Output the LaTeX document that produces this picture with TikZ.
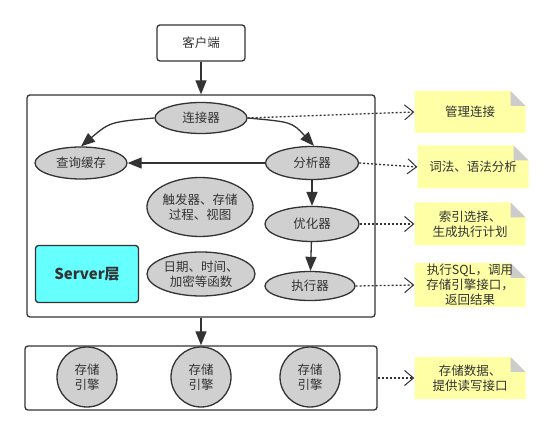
\documentclass[tikz,border=0pt]{standalone}
\usepackage{fontspec}
\setmainfont{Noto Sans CJK SC}
\usepackage{tikz}
\usetikzlibrary{positioning}
\usetikzlibrary{shapes.geometric}
\usetikzlibrary{arrows.meta}

\definecolor{linegray}{HTML}{333333}
\definecolor{ovalgray}{HTML}{D0D0D0}
\definecolor{layercyan}{HTML}{66FFFF}
\definecolor{noteyellow}{HTML}{FFFFA6}
\definecolor{foldgray}{HTML}{CCCCCC}

\begin{document}
\begin{tikzpicture}[x=1pt,y=-1pt,
    font=\fontsize{12.5}{15}\selectfont,
    every node/.style={text=linegray},
    box/.style={draw=linegray,line width=1.3pt,rounded corners=3pt,fill=white},
    oval/.style={ellipse,draw=linegray,line width=1.3pt,fill=ovalgray,inner sep=0pt,align=center},
    flow/.style={draw=linegray,line width=1.3pt,-{Triangle[length=14pt,width=11pt]}},
    dotlink/.style={draw=linegray,line width=1.3pt,dash pattern=on 2pt off 2pt,
        -{Straight Barb[length=9pt,width=15pt,line width=1pt]}},
    notebox/.style={minimum width=111pt,minimum height=#1,inner sep=0pt,align=center,
        path picture={
            \fill[noteyellow] (path picture bounding box.south west)
                -- (path picture bounding box.north west)
                -- ([xshift=-15pt]path picture bounding box.north east)
                -- ([yshift=-15pt]path picture bounding box.north east)
                -- (path picture bounding box.south east) -- cycle;
            \fill[foldgray] ([xshift=-15pt]path picture bounding box.north east)
                -- ([xshift=-15pt,yshift=-15pt]path picture bounding box.north east)
                -- ([yshift=-15pt]path picture bounding box.north east) -- cycle;
        }},
    notebox/.default=43pt]
    \useasboundingbox (0,0) rectangle (554,435);

    % client and the two layers
    \node[box,minimum width=88pt,minimum height=36pt] (client) at (201,43) {客户端};
    \node[box,minimum width=348pt,minimum height=222pt] (server) at (201,206) {};
    \node[box,minimum width=352pt,minimum height=64pt] (storage) at (201,378) {};

    % server parts
    \node[oval,minimum width=92pt,minimum height=31pt] (conn) at (201,118) {连接器};
    \node[oval,minimum width=92pt,minimum height=32pt] (cache) at (81,163) {查询缓存};
    \node[oval,minimum width=93pt,minimum height=33pt] (parser) at (312,163) {分析器};
    \node[oval,minimum width=94pt,minimum height=35pt] (optim) at (312,224) {优化器};
    \node[oval,minimum width=90pt,minimum height=29pt] (exec) at (310,286) {执行器};
    \node[oval,minimum width=104pt,minimum height=59pt] (trig) at (200,207) {触发器、存储\\过程、视图};
    \node[oval,minimum width=108pt,minimum height=44pt] (func) at (201,274) {日期、时间、\\加密等函数};
    \node[box,fill=layercyan,minimum width=103pt,minimum height=57pt] (layer) at (87,274)
        {\fontsize{15}{18}\selectfont\bfseries Server层};

    % storage engines
    \foreach \x/\i in {87/1,201/2,310/3}
        \node[oval,circle,minimum size=60pt] (eng\i) at (\x,377) {存储\\引擎};

    % notes
    \node[notebox=42pt] (note1) at (470,112) {管理连接};
    \node[notebox] (note2) at (473,167) {词法、语法分析};
    \node[notebox] (note3) at (470,224) {索引选择、\\生成执行计划};
    \node[notebox=44pt] (note4) at (470,285) {执行SQL，调用\\存储引擎接口，\\返回结果};
    \node[notebox=42pt] (note5) at (470,378) {存储数据、\\提供读写接口};

    \path[every edge/.style=flow]
        (client) edge (server.north)
        (parser) edge (cache)
        (parser) edge (optim)
        (optim) edge (exec)
        (server.south) edge (storage.north);
    \draw[flow] (conn.west) .. controls (110,122) .. (cache.north);
    \draw[flow] (conn.east) .. controls (292,122) .. ([xshift=2pt]parser.north);

    \path[every edge/.style=dotlink]
        (conn.east) edge (note1.west)
        (parser.east) edge (note2.west)
        (optim.east) edge (note3.west)
        (exec.east) edge (note4.west)
        (storage.east) edge (note5.west);
\end{tikzpicture}
\end{document}
